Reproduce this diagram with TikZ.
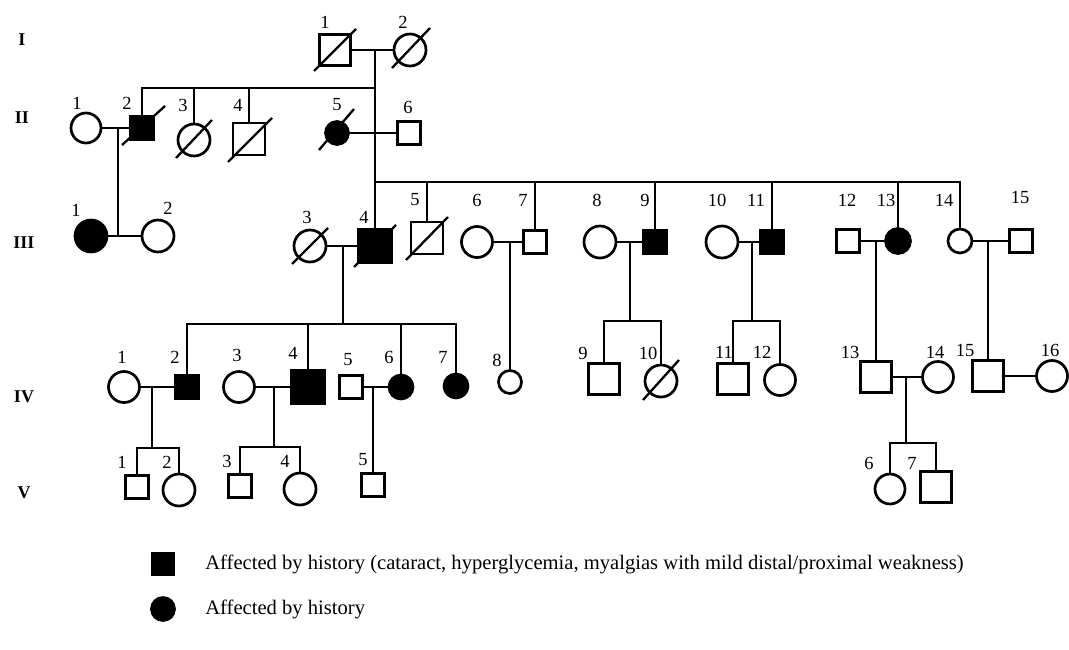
\documentclass[tikz,border=0pt]{standalone}
\usepackage{fontspec}
\setmainfont{Liberation Serif}
\usepackage{tikz}

\begin{document}
\begin{tikzpicture}[x=1pt, y=-1pt, line width=2.7pt,
    male/.style={draw, rectangle, minimum size=#1, inner sep=0pt},
    female/.style={draw, circle, minimum size=#1, inner sep=0pt},
    aff/.style={fill=black},
    deceased/.style={line width=2.3pt},
    num/.style={font=\fontsize{18.5}{20}\selectfont, inner sep=0pt},
    gen/.style={font=\fontsize{18}{20}\selectfont\bfseries, inner sep=0pt},
    legend/.style={font=\fontsize{20.6}{22}\selectfont, anchor=west, inner sep=0pt}]
    \useasboundingbox (0,0) rectangle (1069,650);

    % generation labels
    \node[gen] (gI)   at (22,40)  {I};
    \node[gen] (gII)  at (22,118) {II};
    \node[gen] (gIII) at (24,243) {III};
    \node[gen] (gIV)  at (24,397) {IV};
    \node[gen] (gV)   at (24,493) {V};

    % generation I
    \node[male=31]   (iA) at (335,50) {};
    \node[female=32] (iB) at (410,50) {};
    \draw[deceased] ([shift={(-21,21)}]iA.center) -- ([shift={(21,-21)}]iA.center);
    \draw[deceased] ([shift={(-18,18)}]iB.center) -- ([shift={(20,-22)}]iB.center);
    \node[num] (liA) at (325,22) {1};
    \node[num] (liB) at (403,22) {2};
    \draw (iA) -- (iB);
    \coordinate (mI) at (375,50);

    % generation II
    \node[female=30]    (iiA) at (86,128)  {};
    \node[male=24, aff] (iiB) at (142,128) {};
    \node[female=32]    (iiC) at (194,140) {};
    \node[male=32]      (iiD) at (249,139) {};
    \node[female=23, aff] (iiE) at (337,133) {};
    \node[male=23]      (iiF) at (409,133) {};
    \draw[deceased] ([shift={(-20,17)}]iiB.center) -- ([shift={(23,-22)}]iiB.center);
    \draw[deceased] ([shift={(-18,18)}]iiC.center) -- ([shift={(18,-20)}]iiC.center);
    \draw[deceased] ([shift={(-21,23)}]iiD.center) -- ([shift={(23,-21)}]iiD.center);
    \draw[deceased] ([shift={(-18,17)}]iiE.center) -- ([shift={(17,-24)}]iiE.center);
    \node[num] (liiA) at (77,103)  {1};
    \node[num] (liiB) at (127,103) {2};
    \node[num] (liiC) at (183,105) {3};
    \node[num] (liiD) at (238,105) {4};
    \node[num] (liiE) at (337,105) {5};
    \node[num] (liiF) at (408,107) {6};
    \coordinate (sII) at (375,88);
    \coordinate (sIII) at (375,182);
    \draw (mI) -- (sIII);
    \draw (iiB) |- (sII);
    \draw (iiC) -- (iiC |- sII);
    \draw (iiD) -- (iiD |- sII);
    \draw (iiA) -- (iiB);
    \draw (iiE) -- (iiF);
    \coordinate (mIIa) at (118,128);

    % generation III
    \node[female=32, aff] (iiiA) at (91,236)  {};
    \node[female=32]      (iiiB) at (158,236) {};
    \node[female=32]      (iiiC) at (310,246) {};
    \node[male=33, aff]   (iiiD) at (375,246) {};
    \node[male=32]        (iiiE) at (427,238) {};
    \node[female=31]      (iiiF) at (477,242) {};
    \node[male=23]        (iiiG) at (535,242) {};
    \node[female=32]      (iiiH) at (600,242) {};
    \node[male=23, aff]   (iiiI) at (655,242) {};
    \node[female=32]      (iiiJ) at (722,242) {};
    \node[male=23, aff]   (iiiK) at (772,242) {};
    \node[male=23]        (iiiL) at (848,241) {};
    \node[female=25, aff] (iiiM) at (898,241) {};
    \node[female=24]      (iiiN) at (960,241) {};
    \node[male=23]        (iiiO) at (1021,241) {};
    \draw[deceased] ([shift={(-18,18)}]iiiC.center) -- ([shift={(18,-18)}]iiiC.center);
    \draw[deceased] ([shift={(-21,21)}]iiiD.center) -- ([shift={(21,-21)}]iiiD.center);
    \draw[deceased] ([shift={(-21,22)}]iiiE.center) -- ([shift={(21,-21)}]iiiE.center);
    \node[num] (liiiA) at (76,210)   {1};
    \node[num] (liiiB) at (168,208)  {2};
    \node[num] (liiiC) at (307,217)  {3};
    \node[num] (liiiD) at (364,217)  {4};
    \node[num] (liiiE) at (415,200)  {5};
    \node[num] (liiiF) at (477,200)  {6};
    \node[num] (liiiG) at (523,200)  {7};
    \node[num] (liiiH) at (597,200)  {8};
    \node[num] (liiiI) at (645,200)  {9};
    \node[num] (liiiJ) at (717,200)  {10};
    \node[num] (liiiK) at (756,200)  {11};
    \node[num] (liiiL) at (847,200)  {12};
    \node[num] (liiiM) at (886,200)  {13};
    \node[num] (liiiN) at (944,200)  {14};
    \node[num] (liiiO) at (1020,197) {15};
    \draw (mIIa) -- (mIIa |- iiiA);
    \draw (iiiA) -- (iiiB);
    \draw (sIII) -| (iiiN);
    \draw (iiiD) -- (iiiD |- sIII);
    \draw (iiiE) -- (iiiE |- sIII);
    \draw (iiiG) -- (iiiG |- sIII);
    \draw (iiiI) -- (iiiI |- sIII);
    \draw (iiiK) -- (iiiK |- sIII);
    \draw (iiiM) -- (iiiM |- sIII);
    \draw (iiiC) -- (iiiD);
    \draw (iiiF) -- (iiiG);
    \draw (iiiH) -- (iiiI);
    \draw (iiiJ) -- (iiiK);
    \draw (iiiL) -- (iiiM);
    \draw (iiiN) -- (iiiO);
    \coordinate (mIIIa) at (343,246);
    \coordinate (mIIIb) at (510,242);
    \coordinate (mIIIc) at (630,242);
    \coordinate (mIIId) at (752,242);
    \coordinate (mIIIe) at (876,241);
    \coordinate (mIIIf) at (988,241);

    % generation IV
    \node[female=31]      (ivA) at (124,387)  {};
    \node[male=24, aff]   (ivB) at (187,387)  {};
    \node[female=31]      (ivC) at (239,387)  {};
    \node[male=33, aff]   (ivD) at (308,387)  {};
    \node[male=23]        (ivE) at (351,387)  {};
    \node[female=24, aff] (ivF) at (401,387)  {};
    \node[female=24, aff] (ivG) at (456,386)  {};
    \node[female=23]      (ivH) at (510,382)  {};
    \node[male=31]        (ivI) at (604,379)  {};
    \node[female=32]      (ivJ) at (661,381)  {};
    \node[male=31]        (ivK) at (733,379)  {};
    \node[female=31]      (ivL) at (780,380)  {};
    \node[male=31]        (ivM) at (876,377)  {};
    \node[female=31]      (ivN) at (938,377)  {};
    \node[male=31]        (ivO) at (988,376)  {};
    \node[female=31]      (ivP) at (1052,376) {};
    \draw[deceased] ([shift={(-18,19)}]ivJ.center) -- ([shift={(18,-21)}]ivJ.center);
    \node[num] (livA) at (122,357)  {1};
    \node[num] (livB) at (175,357)  {2};
    \node[num] (livC) at (237,355)  {3};
    \node[num] (livD) at (293,353)  {4};
    \node[num] (livE) at (348,360)  {5};
    \node[num] (livF) at (389,357)  {6};
    \node[num] (livG) at (443,357)  {7};
    \node[num] (livH) at (497,360)  {8};
    \node[num] (livI) at (583,353)  {9};
    \node[num] (livJ) at (648,353)  {10};
    \node[num] (livK) at (724,352)  {11};
    \node[num] (livL) at (762,352)  {12};
    \node[num] (livM) at (850,352)  {13};
    \node[num] (livN) at (935,352)  {14};
    \node[num] (livO) at (965,350)  {15};
    \node[num] (livP) at (1050,350) {16};
    \coordinate (sIVa) at (343,324);
    \coordinate (sIVb) at (630,321);
    \coordinate (sIVc) at (752,321);
    \draw (mIIIa) -- (sIVa);
    \draw (ivB) -- (ivB |- sIVa) -- (ivG |- sIVa) -- (ivG);
    \draw (ivD) -- (ivD |- sIVa);
    \draw (ivF) -- (ivF |- sIVa);
    \draw (mIIIb) -- (ivH);
    \draw (mIIIc) -- (sIVb);
    \draw (ivI) -- (ivI |- sIVb) -- (ivJ |- sIVb) -- (ivJ);
    \draw (mIIId) -- (sIVc);
    \draw (ivK) -- (ivK |- sIVc) -- (ivL |- sIVc) -- (ivL);
    \draw (mIIIe) -- (ivM);
    \draw (mIIIf) -- (ivO);
    \draw (ivA) -- (ivB);
    \draw (ivC) -- (ivD);
    \draw (ivE) -- (ivF);
    \draw (ivM) -- (ivN);
    \draw (ivO) -- (ivP);
    \coordinate (mIVa) at (152,387);
    \coordinate (mIVb) at (274,387);
    \coordinate (mIVc) at (373,387);
    \coordinate (mIVd) at (906,377);

    % generation V
    \node[male=23]   (vA) at (137,487) {};
    \node[female=32] (vB) at (179,490) {};
    \node[male=23]   (vC) at (240,486) {};
    \node[female=32] (vD) at (300,489) {};
    \node[male=23]   (vE) at (373,485) {};
    \node[female=30] (vF) at (890,489) {};
    \node[male=31]   (vG) at (936,487) {};
    \node[num] (lvA) at (122,462) {1};
    \node[num] (lvB) at (167,462) {2};
    \node[num] (lvC) at (227,461) {3};
    \node[num] (lvD) at (285,461) {4};
    \node[num] (lvE) at (363,460) {5};
    \node[num] (lvF) at (869,463) {6};
    \node[num] (lvG) at (912,463) {7};
    \coordinate (sVa) at (152,448);
    \coordinate (sVb) at (274,447);
    \coordinate (sVc) at (906,443);
    \draw (mIVa) -- (sVa);
    \draw (vA) -- (vA |- sVa) -- (vB |- sVa) -- (vB);
    \draw (mIVb) -- (sVb);
    \draw (vC) -- (vC |- sVb) -- (vD |- sVb) -- (vD);
    \draw (mIVc) -- (vE);
    \draw (mIVd) -- (sVc);
    \draw (vF) -- (vF |- sVc) -- (vG |- sVc) -- (vG);

    % legend
    \node[male=21, aff]   (lgSq) at (163,564) {};
    \node[female=23, aff] (lgCi) at (163,609) {};
    \node[legend] (lgSqT) at (204,564) {Affected by history (cataract, hyperglycemia, myalgias with mild distal/proximal weakness)};
    \node[legend] (lgCiT) at (204,609) {Affected by history};
\end{tikzpicture}
\end{document}
